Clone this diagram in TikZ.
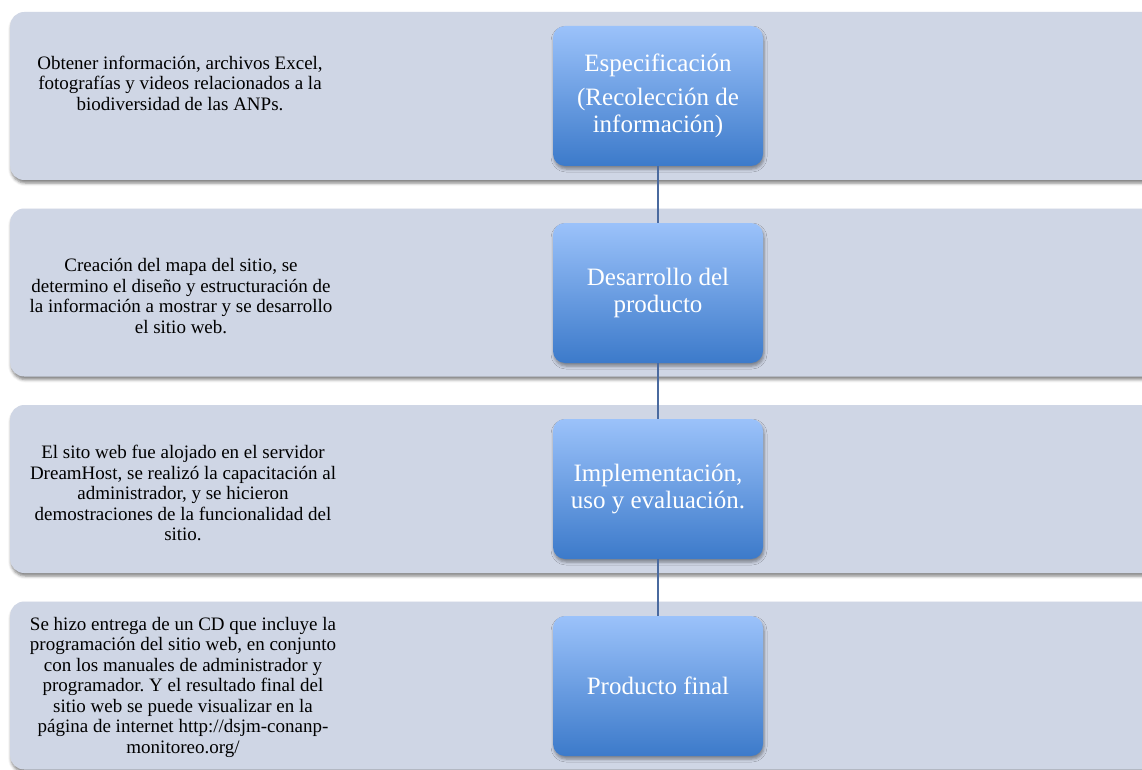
\documentclass[tikz,border=0pt]{standalone}
\usepackage{fontspec}
\setmainfont{Liberation Serif}
\frenchspacing
\usetikzlibrary{shadows.blur}
\definecolor{bandfill}{RGB}{207,214,229}
\definecolor{btop}{RGB}{155,194,250}
\definecolor{bbot}{RGB}{60,122,202}
\definecolor{linkc}{RGB}{74,106,159}
\begin{document}
\begin{tikzpicture}[x=1pt,y=-1pt,
  band/.style={rounded corners=14pt, fill=bandfill, minimum width=1150pt, minimum height=168pt,
    anchor=west, inner sep=0pt,
    blur shadow={shadow xshift=1pt, shadow yshift=-3pt, shadow blur radius=3pt, shadow opacity=50}},
  stepbox/.style={rounded corners=12pt, top color=btop, bottom color=bbot, draw=none,
    minimum width=210pt, minimum height=140pt, inner sep=0pt, text=white, align=center,
    font=\fontsize{25}{27}\selectfont,
    blur shadow={shadow xshift=1pt, shadow yshift=-3pt, shadow blur radius=3pt, shadow opacity=40}},
  desc/.style={align=center, text=black, inner sep=0pt, font=\fontsize{19}{20.5}\selectfont},
  link/.style={draw=linkc, line width=1.5pt}
]
\useasboundingbox (0,0) rectangle (1142,770);
\begin{scope}
\clip (0,0) rectangle (1142,770);
\node[band] (band1) at (10,96) {};
\node[band] (band2) at (10,292.5) {};
\node[band] (band3) at (10,489) {};
\node[band] (band4) at (10,685.5) {};

\node[desc] (d1) at (180,83) {Obtener información, archivos Excel,\\fotografías y videos relacionados a la\\biodiversidad de las ANPs.};
\node[desc] (d2) at (181,296) {Creación del mapa del sitio, se\\determino el diseño y estructuración de\\la información a mostrar y se desarrollo\\el sitio web.};
\node[desc] (d3) at (183,493) {El sito web fue alojado en el servidor\\DreamHost, se realizó la capacitación al\\administrador, y se hicieron\\demostraciones de la funcionalidad del\\sitio.};
\node[desc] (d4) at (183,687) {Se hizo entrega de un CD que incluye la\\programación del sitio web, en conjunto\\con los manuales de administrador y\\programador. Y el resultado final del\\sitio web se puede visualizar en la\\página de internet http://dsjm-conanp-\\monitoreo.org/};

\node[stepbox] (s1) at (658,96) {Especificación\\[7pt](Recolección de\\información)};
\node[stepbox] (s2) at (658,293) {Desarrollo del\\producto};
\node[stepbox] (s3) at (658,489) {Implementación,\\uso y evaluación.};
\node[stepbox] (s4) at (658,686) {Producto final};

\draw[link] (s1.south) -- (s2.north);
\draw[link] (s2.south) -- (s3.north);
\draw[link] (s3.south) -- (s4.north);
\end{scope}
\end{tikzpicture}
\end{document}
